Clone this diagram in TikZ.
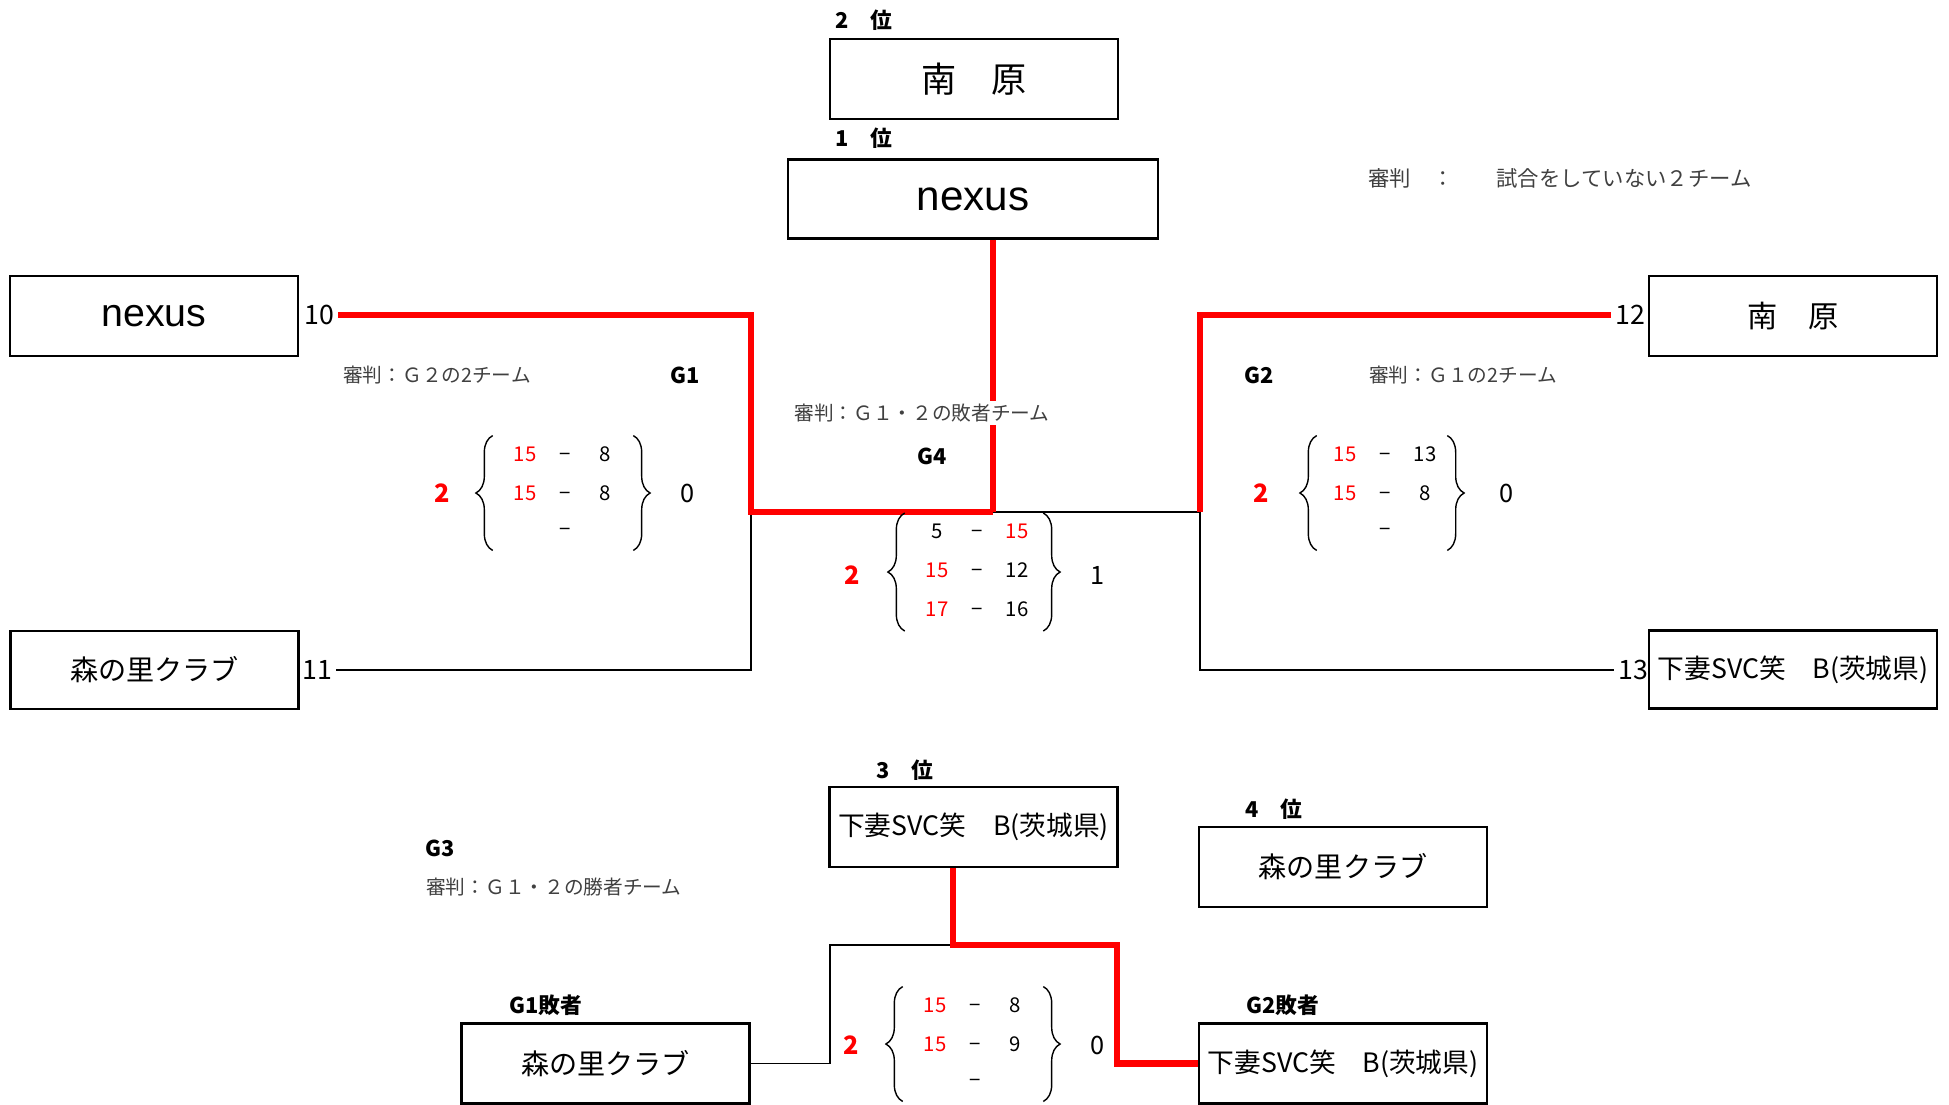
\documentclass[tikz,border=0pt]{standalone}
\usepackage{fontspec}
\setmainfont{Noto Sans CJK JP}
\newfontfamily\latinfont{Liberation Sans}
\usepackage{xcolor}
\usepackage{tikz}
\usetikzlibrary{matrix, decorations.pathreplacing}
\definecolor{refgray}{HTML}{404040}

\begin{document}
\begin{tikzpicture}[x=0.25mm, y=-0.25mm,
  team/.style={draw, line width=1.6pt, minimum width=7.2cm, minimum height=2cm, inner sep=0pt},
  rank/.style={anchor=west, inner sep=0pt, font=\bfseries\fontsize{15.5}{15.5}\selectfont},
  seed/.style={inner sep=3pt, font=\fontsize{19}{19}\selectfont},
  game/.style={inner sep=0pt, font=\bfseries\fontsize{15.5}{15.5}\selectfont},
  referee/.style={anchor=west, inner sep=0pt, text=refgray, font=\fontsize{14}{14}\selectfont},
  win/.style={draw=red, line width=4.3pt},
  lose/.style={draw=black, line width=1.2pt},
  scores/.style={matrix of nodes, inner sep=0pt, nodes={minimum width=1cm, minimum height=0.9cm, inner sep=0pt, font=\fontsize{14.5}{14.5}\selectfont}},
  won/.style={text=red},
  sets/.style={inner sep=0pt, font=\fontsize{18}{18}\selectfont},
  setswon/.style={sets, text=red, font=\bfseries\fontsize{18}{18}\selectfont},
  lbrace/.style={decorate, decoration={brace, amplitude=0.42cm}, line width=1pt}]

\useasboundingbox (0,0) rectangle (1949,1104);

% ranking
\node[rank] (lbl2) at (835,20) {2　位};
\node[team, font=\fontsize{25}{25}\selectfont] (rank2) at (974,79) {南　原};
\node[rank] (lbl1) at (835,138) {1　位};
\node[team, minimum width=9.25cm, minimum height=1.975cm, font=\latinfont\fontsize{30}{30}\selectfont] (rank1) at (973,199) {nexus};
\node[referee, font=\fontsize{15.2}{15.2}\selectfont] (refall) at (1368,178) {審判　：　　試合をしていない２チーム};

% teams
\node[team, font=\latinfont\fontsize{28}{28}\selectfont] (teamA) at (154,316) {nexus};
\node[team, minimum height=1.95cm, font=\fontsize{20}{20}\selectfont] (teamB) at (154.5,670) {森の里クラブ};
\node[team, font=\fontsize{21.5}{21.5}\selectfont] (teamC) at (1793,316) {南　原};
\node[team, minimum height=1.95cm, font=\fontsize{19}{19}\selectfont] (teamD) at (1793,669.5) {下妻SVC笑　B(茨城県)};

\node[seed] (s10) at (319,315) {10};
\node[seed] (s11) at (317,670) {11};
\node[seed] (s12) at (1630,315) {12};
\node[seed] (s13) at (1633,670) {13};

\coordinate (g1) at (751,512);
\coordinate (g2) at (1200,512);
\coordinate (g4) at (993,512);

\draw[lose] (s11.east) -| (g1);
\draw[lose] (g4) -- (g2);
\draw[lose] (s13.west) -| (g2);
\draw[win] (s10.east) -| (g1) -- (g4);
\draw[win] (rank1.south -| g4) -- (g4);
\draw[win] (s12.west) -| (g2);

% G1
\node[game] (g1lbl) at (685,375) {G1};
\node[referee] (refg1) at (343,375) {審判：Ｇ２の2チーム};
\matrix[scores] (g1sc) at (565,493) {
  |[won]| 15 & − & 8 \\
  |[won]| 15 & − & 8 \\
             & − &   \\
};
\draw[lbrace] ([xshift=-0.3cm]g1sc.south west) -- ([xshift=-0.3cm]g1sc.north west);
\draw[lbrace] ([xshift=0.2cm]g1sc.north east) -- ([xshift=0.2cm]g1sc.south east);
\node[setswon] (g1w) at (442,493) {2};
\node[sets] (g1l) at (688,493) {0};

% G2
\node[game] (g2lbl) at (1259,375) {G2};
\node[referee] (refg2) at (1369,375) {審判：Ｇ１の2チーム};
\matrix[scores] (g2sc) at (1385,493) {
  |[won]| 15 & − & 13 \\
  |[won]| 15 & − & 8  \\
             & − &    \\
};
\draw[lbrace] ([xshift=-0.2cm]g2sc.south west) -- ([xshift=-0.2cm]g2sc.north west);
\draw[lbrace] ([xshift=0.05cm]g2sc.north east) -- ([xshift=0.05cm]g2sc.south east);
\node[setswon] (g2w) at (1261,493) {2};
\node[sets] (g2l) at (1507,493) {0};

% G4
\node[game] (g4lbl) at (932,456) {G4};
\node[referee, anchor=center, fill=white, inner sep=2pt] (refg4) at (922,413) {審判：Ｇ１・２の敗者チーム};
\matrix[scores] (g4sc) at (977,572) {
  5          & − & |[won]| 15 \\
  |[won]| 15 & − & 12 \\
  |[won]| 17 & − & 16 \\
};
\draw[lbrace] ([xshift=-0.3cm]g4sc.south west) -- ([xshift=-0.3cm]g4sc.north west);
\draw[lbrace] ([xshift=0.15cm]g4sc.north east) -- ([xshift=0.15cm]g4sc.south east);
\node[setswon] (g4w) at (852,575) {2};
\node[sets] (g4l) at (1098,575) {1};

% G3
\node[rank] (lbl3) at (876,770) {3　位};
\node[team, font=\fontsize{19}{19}\selectfont] (rank3) at (973.5,827) {下妻SVC笑　B(茨城県)};
\node[rank] (lbl4) at (1245,809) {4　位};
\node[team, font=\fontsize{20}{20}\selectfont] (rank4) at (1343,867) {森の里クラブ};
\node[game] (g3lbl) at (440,848) {G3};
\node[referee] (refg3) at (426,887) {審判：Ｇ１・２の勝者チーム};
\node[game] (l1lbl) at (546,1005) {G1敗者};
\node[game] (l2lbl) at (1283,1005) {G2敗者};
\node[team, font=\fontsize{20}{20}\selectfont] (loser1) at (605.5,1063.5) {森の里クラブ};
\node[team, font=\fontsize{19}{19}\selectfont] (loser2) at (1343,1063.5) {下妻SVC笑　B(茨城県)};

\coordinate (g3) at (953,945);
\coordinate (g3l) at (830,945);
\coordinate (g3r) at (1117,945);

\draw[lose] (loser1.east) -| (g3l) -- (g3);
\draw[win] (rank3.south -| g3) -- (g3) -- (g3r) |- (loser2.west);

\matrix[scores] (g3sc) at (975,1044) {
  |[won]| 15 & − & 8 \\
  |[won]| 15 & − & 9 \\
             & − &   \\
};
\draw[lbrace] ([xshift=-0.3cm]g3sc.south west) -- ([xshift=-0.3cm]g3sc.north west);
\draw[lbrace] ([xshift=0.2cm]g3sc.north east) -- ([xshift=0.2cm]g3sc.south east);
\node[setswon] (g3w) at (851,1045) {2};
\node[sets] (g3l) at (1098,1045) {0};
\end{tikzpicture}
\end{document}
